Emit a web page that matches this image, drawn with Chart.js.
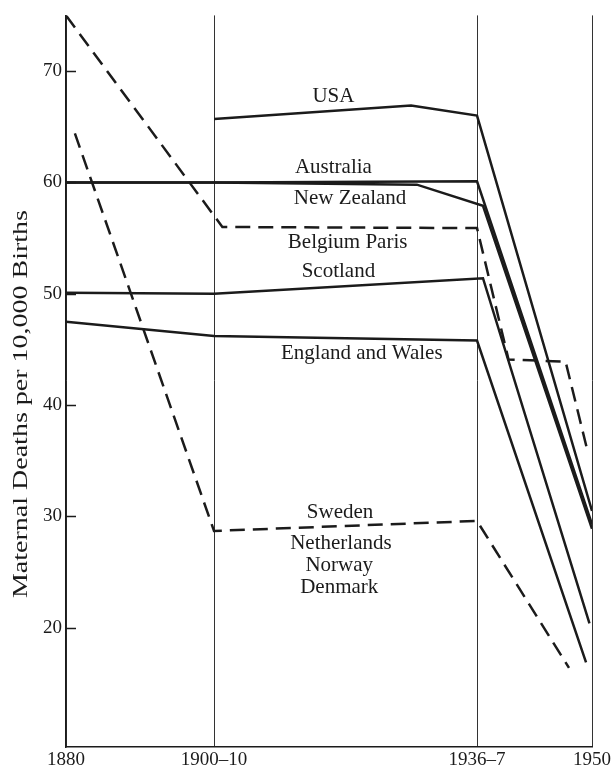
<!DOCTYPE html>
<html>
<head>
<meta charset="utf-8">
<script src="https://cdn.jsdelivr.net/npm/chart.js@4.4.0/dist/chart.umd.min.js"></script>
<style>
  html, body { margin: 0; padding: 0; background: #fff; }
  #wrap { width: 613px; height: 771px; }
</style>
</head>
<body>
<div id="wrap"><canvas id="mmrChart"></canvas></div>
<script>
// period marks on the x axis (year used for each) and their labels
const periodYears = [1880, 1905, 1936.5, 1950];
const periodLabels = ['1880', '1900\u201310', '1936\u20137', '1950'];
const yTicks = [20, 30, 40, 50, 60, 70];

// series: year / maternal deaths per 10,000 births
const usaYears = [1905, 1928.6, 1936.5, 1950];
const usaValues = [65.7, 66.9, 66.0, 30.5];
const australiaYears = [1880, 1905, 1936.5, 1950];
const australiaValues = [60.0, 60.0, 60.1, 29.3];
const nzYears = [1880, 1905, 1929.3, 1937.2, 1950];
const nzValues = [60.0, 60.0, 59.8, 57.9, 28.9];
const belgiumYears = [1880, 1906, 1936.5, 1940.2, 1946.9, 1949.5];
const belgiumValues = [75.0, 56.0, 55.9, 44.1, 43.9, 35.8];
const scotlandYears = [1880, 1905, 1937.2, 1949.7];
const scotlandValues = [50.1, 50.0, 51.4, 20.4];
const englandYears = [1880, 1905, 1936.5, 1949.3];
const englandValues = [47.5, 46.2, 45.8, 16.9];
const swedenYears = [1881.5, 1905, 1936.5, 1947.3];
const swedenValues = [64.4, 28.7, 29.6, 16.4];

// text labels beside the lines [text, year, value]
const lineLabels = [
    ['USA', 1919.3, 67.7],
    ['Australia', 1919.3, 61.3],
    ['New Zealand', 1921.3, 58.6],
    ['Belgium Paris', 1921.0, 54.6],
    ['Scotland', 1919.9, 52.0],
    ['England and Wales', 1922.7, 44.6],
    ['Sweden', 1920.1, 30.4],
    ['Netherlands', 1920.2, 27.6],
    ['Norway', 1920.0, 25.6],
    ['Denmark', 1920.0, 23.6]
];

const ink = '#1b1b1b';
const serif = "'Liberation Serif', 'DejaVu Serif', serif";

// x axis is not uniform in time: 1880 -> 1900-10 is squeezed
const breakFracs = [0, 0.2814, 0.7814, 1];
function yearToFrac(v) {
    for (let i = 0; i < periodYears.length - 1; i++) {
        const a = periodYears[i], b = periodYears[i + 1];
        if (v <= b || i === periodYears.length - 2) {
            return breakFracs[i] + (v - a) / (b - a) * (breakFracs[i + 1] - breakFracs[i]);
        }
    }
}
function fracToYear(f) {
    for (let i = 0; i < breakFracs.length - 1; i++) {
        if (f <= breakFracs[i + 1] || i === breakFracs.length - 2) {
            const t = (f - breakFracs[i]) / (breakFracs[i + 1] - breakFracs[i]);
            return periodYears[i] + t * (periodYears[i + 1] - periodYears[i]);
        }
    }
}

class BrokenScale extends Chart.LinearScale {
    getPixelForValue(value) {
        if (value === null || value === undefined) return NaN;
        return this.getPixelForDecimal(yearToFrac(value));
    }
    getValueForPixel(pixel) {
        return fracToYear(this.getDecimalForPixel(pixel));
    }
}
BrokenScale.id = 'broken';
BrokenScale.defaults = Chart.LinearScale.defaults;
Chart.register(BrokenScale);

function pts(xs, ys) {
    return xs.map((x, i) => ({ x: x, y: ys[i] }));
}
function series(label, xs, ys, dashed) {
    return {
        label: label,
        data: pts(xs, ys),
        borderColor: ink,
        borderWidth: 2.5,
        borderDash: dashed ? [15, 8] : [],
        pointRadius: 0,
        tension: 0,
        fill: false
    };
}

const decorPlugin = {
    id: 'decor',
    afterDraw(chart) {
        const ctx = chart.ctx;
        const xs = chart.scales.x, ys = chart.scales.y;
        const area = chart.chartArea;
        ctx.save();
        // inner tick marks on the y axis
        ctx.strokeStyle = ink;
        ctx.lineWidth = 1.5;
        yTicks.forEach(v => {
            const py = Math.round(ys.getPixelForValue(v)) + 0.5;
            ctx.beginPath();
            ctx.moveTo(area.left, py);
            ctx.lineTo(area.left + 10, py);
            ctx.stroke();
        });
        // line labels
        ctx.fillStyle = ink;
        ctx.font = '21px ' + serif;
        ctx.textAlign = 'center';
        ctx.textBaseline = 'middle';
        lineLabels.forEach(l => {
            ctx.fillText(l[0], xs.getPixelForValue(l[1]), ys.getPixelForValue(l[2]));
        });
        // y axis title (stretched along its length like the original print)
        ctx.font = '20px ' + serif;
        ctx.translate(22, ys.getPixelForValue(40.1));
        ctx.rotate(-Math.PI / 2);
        ctx.scale(1.4, 1);
        ctx.fillText('Maternal Deaths per 10,000 Births', 0, 0);
        ctx.restore();
    }
};

const ctx = document.getElementById('mmrChart').getContext('2d');
new Chart(ctx, {
    type: 'line',
    data: {
        datasets: [
            series('USA', usaYears, usaValues, false),
            series('Australia', australiaYears, australiaValues, false),
            series('New Zealand', nzYears, nzValues, false),
            series('Belgium Paris', belgiumYears, belgiumValues, true),
            series('Scotland', scotlandYears, scotlandValues, false),
            series('England and Wales', englandYears, englandValues, false),
            series('Sweden, Netherlands, Norway, Denmark', swedenYears, swedenValues, true)
        ]
    },
    options: {
        responsive: true,
        maintainAspectRatio: false,
        animation: false,
        layout: { padding: { top: 13, right: 21, left: 0, bottom: 0 } },
        plugins: {
            legend: { display: false },
            tooltip: { enabled: false }
        },
        scales: {
            x: {
                type: 'broken',
                min: 1880,
                max: 1950,
                afterBuildTicks: axis => { axis.ticks = periodYears.map(v => ({ value: v })); },
                afterFit: axis => { axis.height = 24; },
                grid: { color: '#333', lineWidth: 1, drawTicks: false },
                border: { display: true, color: ink, width: 1.5 },
                ticks: {
                    autoSkip: false,
                    maxRotation: 0,
                    padding: 2,
                    color: ink,
                    font: { family: serif, size: 19 },
                    callback: (value) => periodLabels[periodYears.indexOf(value)]
                }
            },
            y: {
                min: 9.3,
                max: 75,
                afterBuildTicks: axis => { axis.ticks = yTicks.map(v => ({ value: v })); },
                afterFit: axis => { axis.width = 66; },
                grid: { display: false, drawTicks: false },
                border: { display: true, color: ink, width: 1.5 },
                ticks: {
                    padding: 4,
                    color: ink,
                    font: { family: serif, size: 19 }
                }
            }
        }
    },
    plugins: [decorPlugin]
});
</script>
</body>
</html>
